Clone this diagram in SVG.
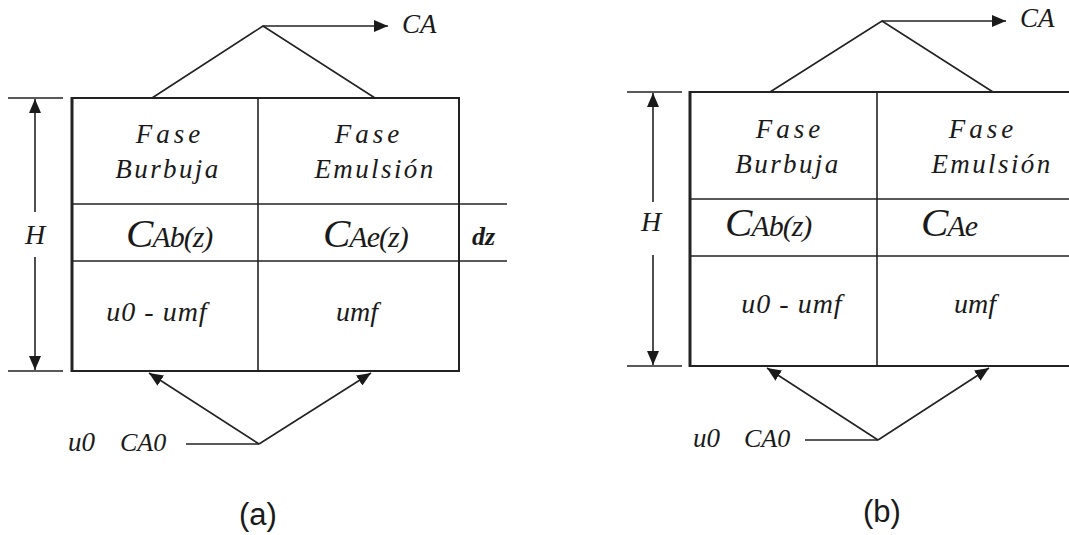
<svg xmlns="http://www.w3.org/2000/svg" width="1069" height="535" viewBox="0 0 1069 535">
<defs>
<marker id="ah" markerUnits="userSpaceOnUse" markerWidth="14" markerHeight="12" refX="14" refY="6" orient="auto">
<path d="M0,0 L14,6 L0,12 z" fill="#1a1a1a"/>
</marker>
<style>
.ln{stroke:#222;stroke-width:1.6;fill:none}
.bd{stroke:#222;stroke-width:2;fill:none}
.lb{stroke:#222;stroke-width:3;fill:none}
</style>
</defs>
<rect width="1069" height="535" fill="#fff"/>

<g id="diagram-a">
<g id="box-a">
<line class="bd" x1="72" y1="98" x2="459" y2="98"/>
<line class="bd" x1="72" y1="371" x2="459" y2="371"/>
<line class="lb" x1="72" y1="97" x2="72" y2="372"/>
<line class="bd" x1="459" y1="97" x2="459" y2="372"/>
<line class="ln" x1="258" y1="98" x2="258" y2="371"/>
<line class="ln" x1="72" y1="204" x2="507" y2="204"/>
<line class="ln" x1="72" y1="261" x2="507" y2="261"/>
</g>
<g id="labels-a" fill="#1a1a1a">
<text font-family="'Liberation Serif', serif" font-style="italic" font-size="27" letter-spacing="4" text-anchor="middle" x="170" y="143">Fase</text>
<text font-family="'Liberation Serif', serif" font-style="italic" font-size="27" letter-spacing="2.4" text-anchor="middle" x="168" y="178">Burbuja</text>
<text font-family="'Liberation Serif', serif" font-style="italic" font-size="27" letter-spacing="4" text-anchor="middle" x="369" y="143">Fase</text>
<text font-family="'Liberation Serif', serif" font-style="italic" font-size="27" letter-spacing="2.4" text-anchor="middle" x="375" y="178">Emulsión</text>
<text font-family="'Liberation Serif', serif" font-style="italic" x="126" y="247"><tspan font-size="41">C</tspan><tspan font-size="30" letter-spacing="-1" dx="-1">Ab(z)</tspan></text>
<text font-family="'Liberation Serif', serif" font-style="italic" x="323" y="247"><tspan font-size="41">C</tspan><tspan font-size="30" letter-spacing="-1" dx="-1">Ae(z)</tspan></text>
<text font-family="'Liberation Serif', serif" font-style="italic" font-weight="bold" font-size="26" x="472" y="245">dz</text>
<text font-family="'Liberation Serif', serif" font-style="italic" font-size="28" letter-spacing="1" text-anchor="middle" x="157" y="321">u0 - umf</text>
<text font-family="'Liberation Serif', serif" font-style="italic" font-size="28" text-anchor="middle" x="357" y="321">umf</text>
<text font-family="'Liberation Serif', serif" font-style="italic" font-size="28" text-anchor="middle" x="35" y="244">H</text>
<text font-family="'Liberation Serif', serif" font-style="italic" font-size="27" x="402" y="33">CA</text>
<text font-family="'Liberation Serif', serif" font-style="italic" font-size="27" x="68" y="451">u0</text>
<text font-family="'Liberation Serif', serif" font-style="italic" font-size="26" x="120" y="451">CA0</text>
</g>
<text id="caption-a" x="258" y="525" font-family="'Liberation Sans', sans-serif" font-size="31" fill="#1a1a1a" text-anchor="middle">(a)</text>
<g id="connectors-a">
<line class="ln" x1="8" y1="98" x2="63" y2="98"/>
<line class="ln" x1="8" y1="371" x2="63" y2="371"/>
<line class="ln" x1="35" y1="212" x2="35" y2="99" marker-end="url(#ah)"/>
<line class="ln" x1="35" y1="257" x2="35" y2="370" marker-end="url(#ah)"/>
<polyline class="ln" points="152,98 263,26 375,98"/>
<line class="ln" x1="263" y1="26" x2="388" y2="26" marker-end="url(#ah)"/>
<line class="ln" x1="186" y1="444" x2="259" y2="444"/>
<line class="ln" x1="259" y1="444" x2="149" y2="373" marker-end="url(#ah)"/>
<line class="ln" x1="259" y1="444" x2="371" y2="373" marker-end="url(#ah)"/>
</g>
</g>

<g id="diagram-b">
<g id="box-b">
<line class="bd" x1="690" y1="92" x2="1069" y2="92"/>
<line class="bd" x1="690" y1="366" x2="1069" y2="366"/>
<line class="lb" x1="690" y1="91" x2="690" y2="367"/>
<line class="ln" x1="877" y1="92" x2="877" y2="366"/>
<line class="ln" x1="690" y1="199" x2="1069" y2="199"/>
<line class="ln" x1="690" y1="256" x2="1069" y2="256"/>
</g>
<g id="labels-b" fill="#1a1a1a">
<text font-family="'Liberation Serif', serif" font-style="italic" font-size="27" letter-spacing="4" text-anchor="middle" x="790" y="138">Fase</text>
<text font-family="'Liberation Serif', serif" font-style="italic" font-size="27" letter-spacing="2.4" text-anchor="middle" x="788" y="173">Burbuja</text>
<text font-family="'Liberation Serif', serif" font-style="italic" font-size="27" letter-spacing="4" text-anchor="middle" x="983" y="138">Fase</text>
<text font-family="'Liberation Serif', serif" font-style="italic" font-size="27" letter-spacing="2.4" text-anchor="middle" x="992" y="173">Emulsión</text>
<text font-family="'Liberation Serif', serif" font-style="italic" x="725" y="236"><tspan font-size="41">C</tspan><tspan font-size="30" letter-spacing="-1" dx="-1">Ab(z)</tspan></text>
<text font-family="'Liberation Serif', serif" font-style="italic" x="921" y="236"><tspan font-size="41">C</tspan><tspan font-size="30" letter-spacing="-1" dx="-1">Ae</tspan></text>
<text font-family="'Liberation Serif', serif" font-style="italic" font-size="28" letter-spacing="1" text-anchor="middle" x="792" y="313">u0 - umf</text>
<text font-family="'Liberation Serif', serif" font-style="italic" font-size="28" text-anchor="middle" x="975" y="313">umf</text>
<text font-family="'Liberation Serif', serif" font-style="italic" font-size="28" text-anchor="middle" x="651" y="231">H</text>
<text font-family="'Liberation Serif', serif" font-style="italic" font-size="27" x="1020" y="27">CA</text>
<text font-family="'Liberation Serif', serif" font-style="italic" font-size="27" x="693" y="447">u0</text>
<text font-family="'Liberation Serif', serif" font-style="italic" font-size="26" x="744" y="447">CA0</text>
</g>
<text id="caption-b" x="882" y="522" font-family="'Liberation Sans', sans-serif" font-size="31" fill="#1a1a1a" text-anchor="middle">(b)</text>
<g id="connectors-b">
<line class="ln" x1="627" y1="92" x2="682" y2="92"/>
<line class="ln" x1="627" y1="366" x2="682" y2="366"/>
<line class="ln" x1="653" y1="202" x2="653" y2="93" marker-end="url(#ah)"/>
<line class="ln" x1="653" y1="255" x2="653" y2="365" marker-end="url(#ah)"/>
<polyline class="ln" points="770,92 882,21 993,92"/>
<line class="ln" x1="882" y1="21" x2="1006" y2="21" marker-end="url(#ah)"/>
<line class="ln" x1="805" y1="440" x2="878" y2="440"/>
<line class="ln" x1="878" y1="440" x2="767" y2="368" marker-end="url(#ah)"/>
<line class="ln" x1="878" y1="440" x2="989" y2="368" marker-end="url(#ah)"/>
</g>
</g>
</svg>
